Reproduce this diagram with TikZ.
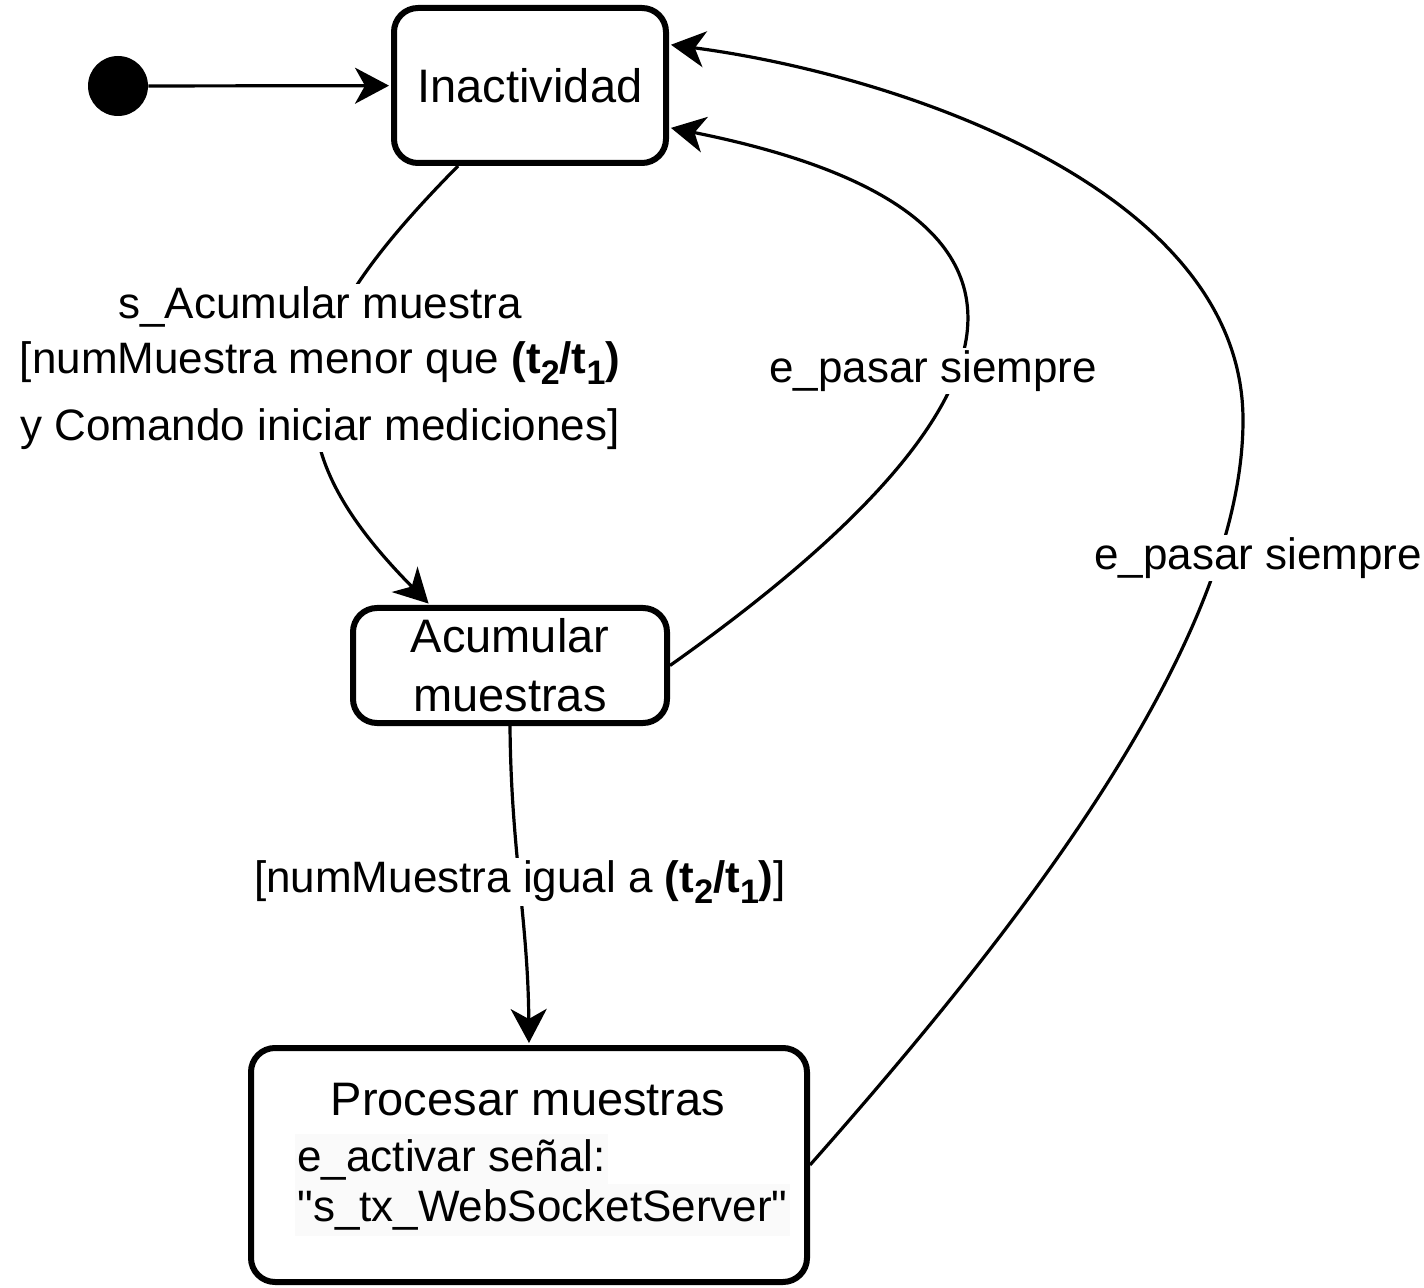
\documentclass[tikz,border=0pt]{standalone}
\usepackage{fontspec}
\setmainfont{Liberation Sans}[Ligatures=TeXOff]
\usetikzlibrary{arrows.meta}
\definecolor{fondo}{RGB}{250,250,250}
\newcommand{\bajo}[1]{\raisebox{-0.5ex}{\fontsize{17}{17}\selectfont #1}}
\newcommand{\tcociente}{\textbf{(t\bajo{2}/t\bajo{1})}}

\begin{document}
\begin{tikzpicture}[x=0.5pt, y=-0.5pt,
        estado/.style={draw, line width=3pt, rounded corners=12pt, align=center,
          font=\fontsize{23.5}{29.5}\selectfont},
        etiqueta/.style={fill=white, inner sep=1pt, align=center,
          font=\fontsize{22}{27.5}\selectfont},
        resaltado/.style={fill=fondo, inner xsep=1pt, inner ysep=3pt, anchor=west,
          font=\fontsize{22}{27.5}\selectfont},
        flecha/.style={line width=1.6pt, shorten >=1pt,
          -{Stealth[length=17pt, width=18pt, inset=5pt]}}]
        \useasboundingbox (0,0) rectangle (1424,1288);

        % estados
        \node[circle, fill, inner sep=0pt, minimum size=30pt] (inicio) at (118,86) {};
        \node[estado, minimum width=136pt, minimum height=77.5pt] (inact) at (530,85.5) {Inactividad};
        \node[estado, minimum width=157pt, minimum height=57.5pt] (acum) at (510,665.5) {Acumular\\muestras};
        \node[estado, minimum width=278pt, minimum height=117pt] (proc) at (529,1165) {};
        \node[font=\fontsize{23.5}{29.5}\selectfont] (procT) at (528,1100) {Procesar muestras};
        \node[resaltado] (procA) at (295,1160) {e\_activar señal:};
        \node[resaltado] (procB) at (295,1210) {"s\_tx\_WebSocketServer"};

        % transiciones
        \draw[flecha] (inicio) -- (inact);
        \draw[flecha] ([xshift=-36pt]inact.south) .. controls (290,336) and (262,435) .. ([xshift=-40pt]acum.north);
        \draw[flecha] (acum.east) .. controls (914,493) and (1185,231) .. ([yshift=-21pt]inact.east);
        \draw[flecha] (acum.south) .. controls (511,850) and (528,920) .. (proc.north);
        \coordinate (giro) at (1243,420);
        \draw[flecha] (proc.east) .. controls (1000,950) and (1243,650) .. (giro)
          .. controls (1243,190) and (900,75) .. ([yshift=20.5pt]inact.east);

        % etiquetas
        \node[etiqueta] (l1) at (320,368) {s\_Acumular muestra\\{}[numMuestra menor que \tcociente\\[6pt]y Comando iniciar mediciones]};
        \node[etiqueta] (l2) at (933,371) {e\_pasar siempre};
        \node[etiqueta] (l3) at (520,882) {[numMuestra igual a \tcociente]};
        \node[etiqueta] (l4) at (1258,558) {e\_pasar siempre};
\end{tikzpicture}
\end{document}
